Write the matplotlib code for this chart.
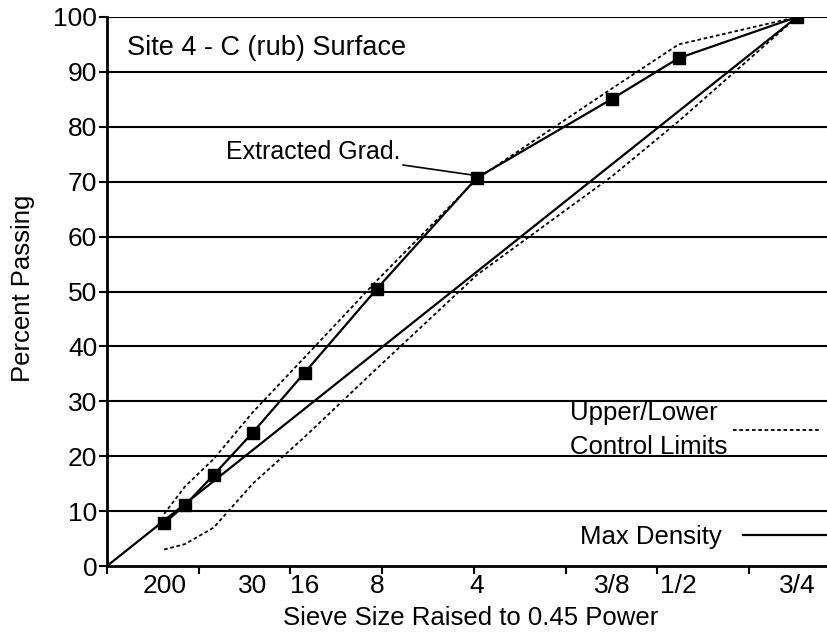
import matplotlib.pyplot as plt
import numpy as np

plt.rcParams["font.family"] = ["Liberation Sans", "DejaVu Sans"]

POWER = 0.45

# sieve openings (mm) and their names
sieve_mm = [0.075, 0.15, 0.3, 0.6, 1.18, 2.36, 4.75, 9.5, 12.5, 19.0]
label_mm = [0.075, 0.6, 1.18, 2.36, 4.75, 9.5, 12.5, 19.0]
label_txt = ["200", "30", "16", "8", "4", "3/8", "1/2", "3/4"]

# percent passing
extracted = [7.8, 11.1, 16.6, 24.3, 35.2, 50.5, 70.7, 85.1, 92.5, 100.0]
upper_lim = [9.5, 14.5, 19.5, 28.0, 38.0, 52.0, 70.5, 87.0, 95.0, 100.0]
lower_lim = [3.0, 4.0, 7.0, 15.0, 23.5, 36.0, 53.0, 71.0, 81.0, 100.0]
max_dens_mm = [0.0, 19.0]
max_dens = [0.0, 100.0]


def px(mm):
    return np.asarray(mm, dtype=float) ** POWER


fig = plt.figure(figsize=(8.28, 6.36), dpi=100, facecolor="white")
ax = fig.add_axes([107 / 828, 70 / 636, 721 / 828, 549 / 636])

x_sieve = px(sieve_mm)
dot = (0, (2.0, 1.5))

ax.plot(x_sieve, upper_lim, color="black", lw=1.3, ls=dot)
ax.plot(x_sieve, lower_lim, color="black", lw=1.3, ls=dot)
ax.plot(px(max_dens_mm), max_dens, color="black", lw=1.6)
ax.plot(x_sieve, extracted, color="black", lw=1.6, marker="s",
        markersize=9, markerfacecolor="black", markeredgecolor="black")

xmax = 3.931
ax.set_xlim(0, xmax)
ax.set_ylim(0, 100)

# horizontal grid
for yv in range(10, 101, 10):
    ax.axhline(yv, color="black", lw=1.5, zorder=0)

ax.spines["top"].set_visible(False)
ax.spines["right"].set_visible(False)
ax.spines["left"].set_linewidth(2.0)
ax.spines["bottom"].set_linewidth(2.0)

ax.set_yticks(range(0, 101, 10))
ax.tick_params(axis="y", direction="out", length=6, width=1.5, labelsize=19, pad=1)

ax.set_xticks(np.arange(0, 3.6, 0.5))
ax.set_xticklabels([])
ax.tick_params(axis="x", which="major", direction="out", length=6, width=1.5)
ax.set_xticks(px(label_mm), label_txt, minor=True)
ax.tick_params(axis="x", which="minor", length=0, labelsize=19, pad=6)

ax.set_ylabel("Percent Passing", fontsize=18.5)
ax.yaxis.set_label_coords(-0.1, 0.505)
ax.set_xlabel("Sieve Size Raised to 0.45 Power", fontsize=18.5)
ax.xaxis.set_label_coords(0.505, -0.073)

ax.text(0.11, 94.3, "Site 4 - C (rub) Surface", fontsize=19.5, va="center", ha="left")

# label for the extracted gradation
ax.annotate("Extracted Grad.", xy=(px(4.75) - 0.02, extracted[6] + 0.5),
            xytext=((400 - 107) / 183.4, 75.4), fontsize=18,
            ha="right", va="center",
            arrowprops=dict(arrowstyle="-", color="black", lw=1.2,
                            shrinkA=0, shrinkB=0))

# hand-made legend
ax.text((570 - 107) / 183.4, 27.9, "Upper/Lower", fontsize=18.5, va="center")
ax.text((570 - 107) / 183.4, 21.7, "Control Limits", fontsize=18.5, va="center")
ax.plot([(733 - 107) / 183.4, (820 - 107) / 183.4], [24.8, 24.8],
        color="black", lw=1.3, ls=dot)
ax.text((580 - 107) / 183.4, 5.3, "Max Density", fontsize=18.5, va="center")
ax.plot([(743 - 107) / 183.4, (827 - 107) / 183.4], [5.6, 5.6],
        color="black", lw=1.6)

fig.savefig("out.png", dpi=100, facecolor="white")
